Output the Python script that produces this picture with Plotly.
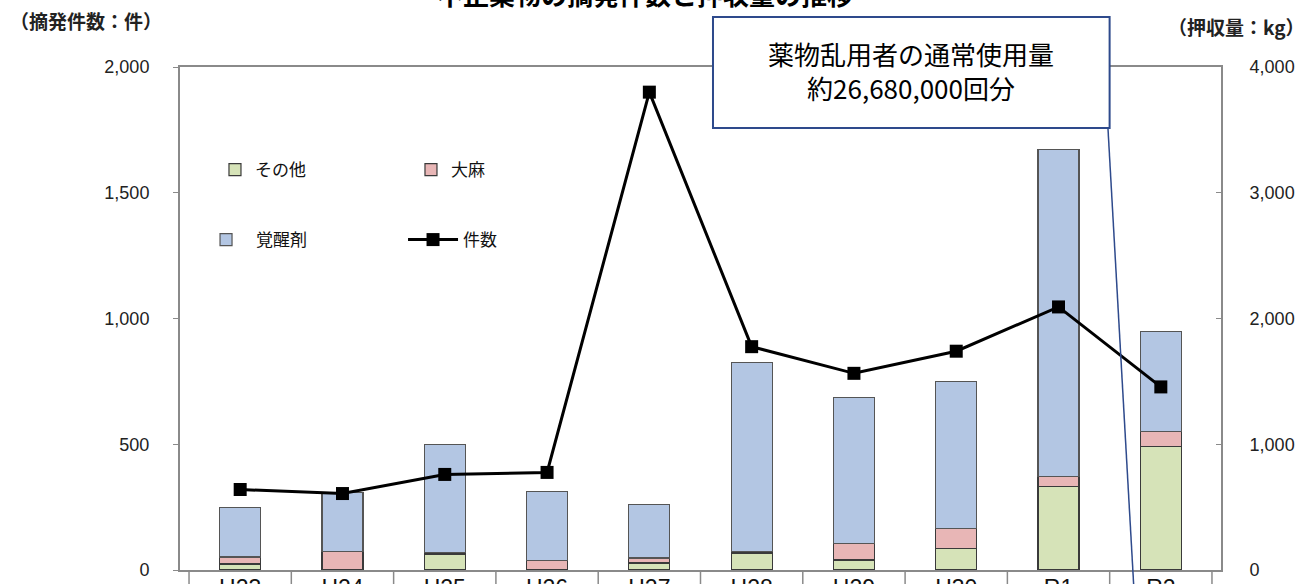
import plotly.graph_objects as go

categories = ["H23", "H24", "H25", "H26", "H27", "H28", "H29", "H30", "R1", "R2"]
# 押収量 (kg)
other_kg = [48, 5, 128, 5, 55, 135, 80, 170, 662, 982]
cannabis_kg = [56, 143, 12, 68, 40, 12, 128, 160, 83, 120]
stimulant_kg = [390, 466, 856, 549, 423, 1503, 1163, 1168, 2602, 795]
# 摘発件数 (件)
cases = [320, 304, 380, 388, 1900, 888, 782, 870, 1046, 728]

left_ticks = [0, 500, 1000, 1500, 2000]
right_ticks = [0, 1000, 2000, 3000, 4000]

GREEN = "#D6E3B8"
PINK = "#E8B6B6"
BLUE = "#B3C6E3"
EDGE = "#3a3a3a"
AXIS = "#8a8a8a"
NAVY = "#2E4A8C"
JP = "Noto Sans CJK JP"
NUM = "Liberation Sans"

fig = go.Figure()
fig.add_trace(go.Bar(x=categories, y=other_kg, name="その他", marker=dict(color=GREEN, line=dict(color=EDGE, width=1.2)),
                     width=0.4, yaxis="y", legend="legend"))
fig.add_trace(go.Bar(x=categories, y=cannabis_kg, name="大麻", marker=dict(color=PINK, line=dict(color=EDGE, width=1.2)),
                     width=0.4, yaxis="y", legend="legend"))
fig.add_trace(go.Bar(x=categories, y=stimulant_kg, name="覚醒剤", marker=dict(color=BLUE, line=dict(color="#555555", width=1.2)),
                     width=0.4, yaxis="y", legend="legend2"))
fig.add_trace(go.Scatter(x=categories, y=cases, name="件数", mode="lines+markers",
                         line=dict(color="black", width=3),
                         marker=dict(symbol="square", size=13, color="black"),
                         yaxis="y2", legend="legend2"))

# category separators below the x axis (table-like label cells)
for k in range(len(categories) + 1):
    fig.add_shape(type="line", xref="x", yref="paper", x0=k - 0.5, x1=k - 0.5, y0=0, y1=-0.06,
                  line=dict(color=AXIS, width=1.5))

# callout box
fig.add_shape(type="rect", xref="paper", yref="paper", x0=0.512, x1=0.893, y0=0.8787, y1=1.0994,
              line=dict(color=NAVY, width=2), fillcolor="white", layer="above")
fig.add_shape(type="line", xref="paper", yref="paper", x0=0.8914, y0=0.8787, x1=0.9164, y1=-0.04,
              line=dict(color=NAVY, width=1.5), layer="above")
fig.add_annotation(xref="paper", yref="paper", x=0.702, y=0.993, xanchor="center", yanchor="middle",
                   text="薬物乱用者の通常使用量<br>約26,680,000回分", showarrow=False,
                   font=dict(family=JP, size=26, color="black"))

# title (partially outside the page, as in the reference)
fig.add_annotation(xref="paper", yref="paper", x=0.4467, y=1.147, xanchor="center", yanchor="middle",
                   text="<b>不正薬物の摘発件数と押収量の推移</b>", showarrow=False,
                   font=dict(family=JP, size=26, color="black"))
fig.add_annotation(xref="paper", yref="paper", x=-0.0903, y=1.0934, xanchor="center", yanchor="middle",
                   text="<b>（摘発件数：件）</b>", showarrow=False, font=dict(family=JP, size=19, color="#222"))
fig.add_annotation(xref="paper", yref="paper", x=1.0826, y=1.0815, xanchor="right", yanchor="middle",
                   text="<b>（押収量：kg）</b>", showarrow=False, font=dict(family=JP, size=19, color="#222"))

fig.update_layout(
    width=1311, height=584,
    margin=dict(l=180, r=90, t=67, b=14, autoexpand=False),
    paper_bgcolor="white", plot_bgcolor="white",
    barmode="stack",
    showlegend=True,
    font=dict(family=JP, color="#222"),
    xaxis=dict(type="category", categoryorder="array", categoryarray=categories, automargin=False,
               showline=True, linecolor=AXIS, linewidth=2, mirror=True, ticks="",
               tickfont=dict(family=NUM, size=23, color="#111"), ticklabelstandoff=-4,
               showgrid=False, zeroline=False),
    yaxis=dict(side="right", range=[0, 4000], tickvals=right_ticks, tickformat=",d", automargin=False,
               showline=True, linecolor=AXIS, linewidth=2, mirror=True, ticks="inside", ticklen=5, tickcolor=AXIS,
               tickfont=dict(family=NUM, size=18, color="#222"), ticklabelstandoff=23,
               showgrid=False, zeroline=False),
    yaxis2=dict(side="left", overlaying="y", range=[0, 2000], tickvals=left_ticks, tickformat=",d", automargin=False,
                showline=True, linecolor=AXIS, linewidth=2, ticks="outside", ticklen=5, tickcolor=AXIS,
                tickfont=dict(family=NUM, size=18, color="#222"), ticklabelstandoff=20,
                showgrid=False, zeroline=False),
    legend=dict(orientation="h", x=0.0336, y=0.795, xanchor="left", yanchor="middle", entrywidth=151,
                entrywidthmode="pixels", font=dict(family=JP, size=17, color="#111"), bgcolor="rgba(0,0,0,0)",
                traceorder="normal"),
    legend2=dict(orientation="h", x=0.0154, y=0.656, xanchor="left", yanchor="middle", entrywidth=142,
                 entrywidthmode="pixels", font=dict(family=JP, size=17, color="#111"), bgcolor="rgba(0,0,0,0)",
                 traceorder="normal", itemwidth=50),
)

fig.write_html("out.html", config={"displayModeBar": False},
               post_script="document.body.style.margin='0px';")
